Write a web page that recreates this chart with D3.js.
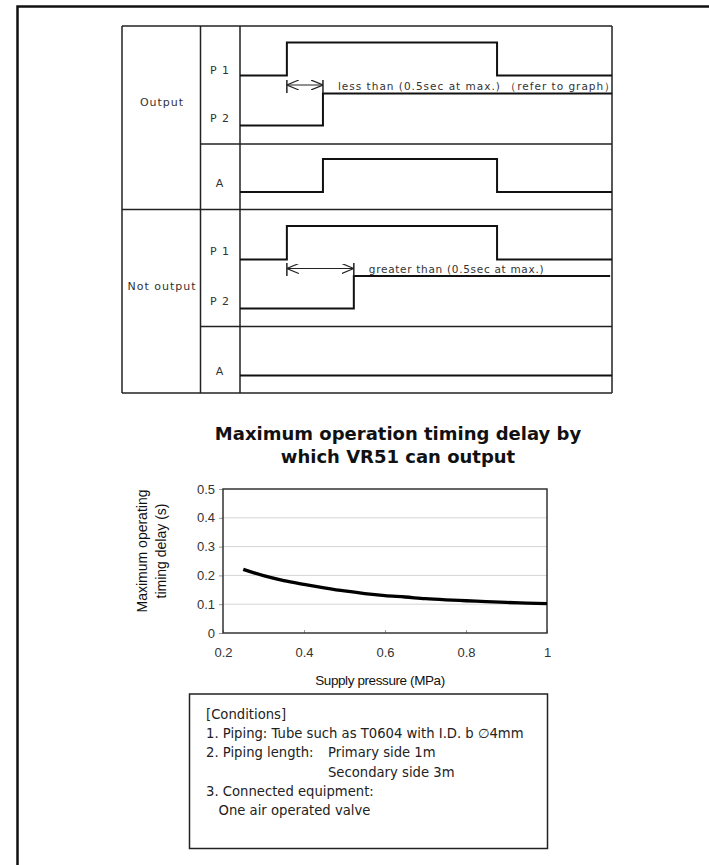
<!DOCTYPE html>
<html>
<head>
<meta charset="utf-8">
<script src="https://cdn.jsdelivr.net/npm/d3@7"></script>
<style>
  body { margin: 0; background: #fff; }
  svg { display: block; }
</style>
</head>
<body>
<div id="body"></div>
<script>
// timing signals: [time, level] pairs (time in arbitrary units 0..100)
let outP1 = [[0, 0], [12.6, 1], [69.1, 0], [100, 0]]
let outP2 = [[0, 0], [22.3, 1], [100, 1]]
let outA = [[0, 0], [22.3, 1], [69.1, 0], [100, 0]]
let notP1 = [[0, 0], [12.6, 1], [69.1, 0], [100, 0]]
let notP2 = [[0, 0], [30.6, 1], [99.5, 1]]
let notA = [[0, 0], [100, 0]]

// curve: supply pressure (MPa) vs max delay (s)
let pressure = [0.25, 0.3, 0.35, 0.4, 0.45, 0.5, 0.55, 0.6, 0.65, 0.7, 0.75, 0.8, 0.85, 0.9, 0.95, 1.0]
let delay = [0.221, 0.199, 0.182, 0.169, 0.157, 0.146, 0.137, 0.130, 0.125, 0.119, 0.115, 0.112, 0.109, 0.106, 0.104, 0.102]
let xTicks = [0.2, 0.4, 0.6, 0.8, 1]
let yTicks = [0, 0.1, 0.2, 0.3, 0.4, 0.5]

let conditions = [
	"[Conditions]",
	"1. Piping: Tube such as T0604 with I.D. b \u22054mm",
	"2. Piping length:",
	"",
	"3. Connected equipment:",
	"   One air operated valve"
]
let pipingSides = ["Primary side 1m", "Secondary side 3m"]

let svg = d3.select("#body").append("svg")
	.attr("width", 709)
	.attr("height", 865)

//outer frame
svg.append("rect")
	.attr("x", 17.5).attr("y", 6.5)
	.attr("width", 720).attr("height", 880)
	.attr("fill", "none")
	.attr("stroke", "#111")
	.attr("stroke-width", 2.5)

// ---------- timing table ----------
let tbl = svg.append("g")
let tl = 122, c1 = 200.5, c2 = 240, tr = 612
let tTop = 26, tMid = 209.5, tBot = 393

let grid = [
	[tl, tTop, tr, tTop], [tl, tBot, tr, tBot], [tl, tMid, tr, tMid],
	[tl, tTop, tl, tBot], [c1, tTop, c1, tBot], [c2, tTop, c2, tBot], [tr, tTop, tr, tBot],
	[c1, 144, tr, 144], [c1, 326.5, tr, 326.5]
]
tbl.selectAll("line.grid")
	.data(grid)
	.enter()
	.append("line")
	.attr("class", "grid")
	.attr("x1", d => d[0]).attr("y1", d => d[1])
	.attr("x2", d => d[2]).attr("y2", d => d[3])
	.attr("stroke", "#222")
	.attr("stroke-width", 1.5)

let tscale = d3.scaleLinear().domain([0, 100]).range([c2, tr])

let signals = [
	{data: outP1, hi: 42.5, lo: 75.5},
	{data: outP2, hi: 93.5, lo: 125.5},
	{data: outA, hi: 159, lo: 192},
	{data: notP1, hi: 226, lo: 259.5},
	{data: notP2, hi: 276, lo: 308.5},
	{data: notA, hi: 342, lo: 375.5}
]

signals.forEach(s => {
	let yl = d3.scaleLinear().domain([0, 1]).range([s.lo, s.hi])
	let line = d3.line()
		.x(d => tscale(d[0]))
		.y(d => yl(d[1]))
		.curve(d3.curveStepAfter)
	tbl.append("path")
		.datum(s.data)
		.attr("d", line)
		.attr("fill", "none")
		.attr("stroke", "#111")
		.attr("stroke-width", 2)
})

//row labels
let labelFont = "'DejaVu Sans', Verdana, sans-serif"
let rowLabels = [
	{t: "P 1", x: 220, y: 74}, {t: "P 2", x: 220, y: 122}, {t: "A", x: 220, y: 187},
	{t: "P 1", x: 220, y: 255}, {t: "P 2", x: 220, y: 305}, {t: "A", x: 220, y: 375},
	{t: "Output", x: 162, y: 106}, {t: "Not output", x: 162, y: 290}
]
tbl.selectAll("text.row")
	.data(rowLabels)
	.enter()
	.append("text")
	.attr("class", "row")
	.attr("x", d => d.x).attr("y", d => d.y)
	.attr("text-anchor", "middle")
	.style("font-family", labelFont)
	.style("font-size", "11px")
	.style("letter-spacing", "1px")
	.style("fill", "#333")
	.text(d => d.t)

//delay arrows
svg.append("defs").selectAll("marker")
	.data(["arrEnd", "arrStart"])
	.enter()
	.append("marker")
	.attr("id", d => d)
	.attr("viewBox", "0 0 12 10")
	.attr("refX", 12).attr("refY", 5)
	.attr("markerWidth", 12).attr("markerHeight", 10)
	.attr("markerUnits", "userSpaceOnUse")
	.attr("orient", "auto-start-reverse")
	.append("path")
	.attr("d", "M0,0 L12,5 L0,10")
	.attr("fill", "none")
	.attr("stroke", "#222")
	.attr("stroke-width", 1.2)

let arrows = [
	{from: 12.6, to: 22.3, y: 85, tickTop: 80, tickBot: 93, text: "less than (0.5sec at max.) \uff08refer to graph\uff09", ty: 89.5, ls: 1.0},
	{from: 12.6, to: 30.6, y: 268.5, tickTop: 263, tickBot: 276, text: "greater than (0.5sec at max.)", ty: 273, ls: 0.7}
]
arrows.forEach(a => {
	tbl.append("line")
		.attr("x1", tscale(a.from)).attr("x2", tscale(a.to))
		.attr("y1", a.y).attr("y2", a.y)
		.attr("stroke", "#222")
		.attr("stroke-width", 1)
		.attr("marker-start", "url(#arrStart)")
		.attr("marker-end", "url(#arrEnd)")
	;[a.from, a.to].forEach(t => {
		tbl.append("line")
			.attr("x1", tscale(t)).attr("x2", tscale(t))
			.attr("y1", a.tickTop).attr("y2", a.tickBot)
			.attr("stroke", "#222")
			.attr("stroke-width", 1.5)
	})
	tbl.append("text")
		.attr("x", tscale(a.to) + 15)
		.attr("y", a.ty)
		.style("font-family", labelFont)
		.style("font-size", "10.5px")
		.style("letter-spacing", a.ls + "px")
		.style("fill", "#333")
		.text(a.text)
})

// ---------- delay chart ----------
let xscale = d3.scaleLinear().domain([0.2, 1]).range([223, 547])
let yscale = d3.scaleLinear().domain([0, 0.5]).range([633, 489])
let chart = svg.append("g")
let chartFont = "'Liberation Sans', Arial, sans-serif"

//title
chart.selectAll("text.title")
	.data(["Maximum operation timing delay by", "which VR51 can output"])
	.enter()
	.append("text")
	.attr("class", "title")
	.attr("x", 398)
	.attr("y", (d, i) => 440 + i * 22.7)
	.attr("text-anchor", "middle")
	.style("font-family", "'DejaVu Sans', Verdana, sans-serif")
	.style("font-weight", "bold")
	.style("font-size", "18px")
	.style("fill", "#111")
	.text(d => d)

//gridlines
chart.selectAll("line.gy")
	.data(yTicks.slice(1, -1))
	.enter()
	.append("line")
	.attr("class", "gy")
	.attr("x1", xscale(0.2)).attr("x2", xscale(1))
	.attr("y1", d => yscale(d)).attr("y2", d => yscale(d))
	.attr("stroke", "#d4d4d4")
	.attr("stroke-width", 1)

//y axis
let yAxis = chart.append("g")
	.attr("transform", "translate(" + xscale(0.2) + ",0)")
	.call(d3.axisLeft(yscale).tickValues(yTicks).tickSize(4).tickPadding(4).tickFormat(d3.format("")))
//x axis
let xAxis = chart.append("g")
	.attr("transform", "translate(0," + yscale(0) + ")")
	.call(d3.axisBottom(xscale).tickValues(xTicks).tickSize(-3).tickPadding(15).tickFormat(d3.format("")))

;[yAxis, xAxis].forEach(ax => {
	ax.select(".domain").remove()
	ax.selectAll("line").attr("stroke", "#999")
	ax.selectAll("text")
		.style("font-family", chartFont)
		.style("font-size", "13px")
		.style("fill", "#333")
})

//plot frame
chart.append("rect")
	.attr("x", xscale(0.2)).attr("y", yscale(0.5))
	.attr("width", xscale(1) - xscale(0.2))
	.attr("height", yscale(0) - yscale(0.5))
	.attr("fill", "none")
	.attr("stroke", "#333")
	.attr("stroke-width", 1.5)

//curve
let pts = pressure.map((p, i) => ({p: p, v: delay[i]}))
let valueLine = d3.line()
	.x(d => xscale(d.p))
	.y(d => yscale(d.v))
	.curve(d3.curveMonotoneX)
chart.append("path")
	.datum(pts)
	.attr("d", valueLine)
	.attr("fill", "none")
	.attr("stroke", "#000")
	.attr("stroke-width", 3.3)

//axis labels
chart.append("text")
	.attr("x", 380).attr("y", 685)
	.attr("text-anchor", "middle")
	.style("font-family", chartFont)
	.style("font-size", "13.5px")
	.style("letter-spacing", "-0.4px")
	.style("fill", "#111")
	.text("Supply pressure (MPa)")

chart.selectAll("text.ylab")
	.data(["Maximum operating", "timing delay (s)"])
	.enter()
	.append("text")
	.attr("class", "ylab")
	.attr("transform", (d, i) => "translate(" + (147 + i * 19) + ",551) rotate(-90)")
	.attr("text-anchor", "middle")
	.style("font-family", chartFont)
	.style("font-size", "14px")
	.style("fill", "#111")
	.text(d => d)

// ---------- conditions box ----------
svg.append("rect")
	.attr("x", 189.5).attr("y", 694)
	.attr("width", 358).attr("height", 154.5)
	.attr("fill", "none")
	.attr("stroke", "#222")
	.attr("stroke-width", 1.5)

let condFont = "'DejaVu Sans', Verdana, sans-serif"
svg.selectAll("text.cond")
	.data(conditions)
	.enter()
	.append("text")
	.attr("class", "cond")
	.attr("x", 206)
	.attr("y", (d, i) => 719 + i * 19.2)
	.attr("xml:space", "preserve")
	.style("white-space", "pre")
	.style("font-family", condFont)
	.style("font-size", "13.2px")
	.style("fill", "#222")
	.text(d => d)

svg.selectAll("text.side")
	.data(pipingSides)
	.enter()
	.append("text")
	.attr("class", "side")
	.attr("x", 328)
	.attr("y", (d, i) => 738.2 + (i + 1) * 19.2)
	.style("font-family", condFont)
	.style("font-size", "13.2px")
	.style("fill", "#222")
	.text(d => d)
</script>
</body>
</html>
